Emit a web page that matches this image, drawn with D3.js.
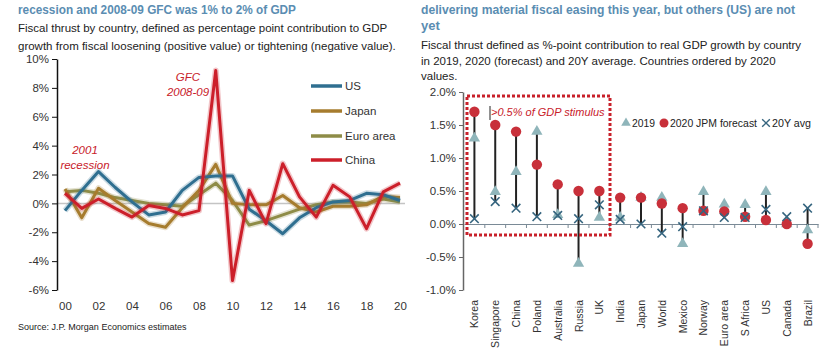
<!DOCTYPE html>
<html><head><meta charset="utf-8">
<script src="https://cdn.jsdelivr.net/npm/d3@7/dist/d3.min.js"></script>
<style>
body{margin:0;background:#fff;}
svg{font-family:"Liberation Sans",Arial,sans-serif;}
</style></head>
<body><svg id="c" width="836" height="350"></svg>
<script>
// ---------- Left chart data ----------
const years = d3.range(2000, 2021);
const usVals    = [-0.5, 0.9, 2.2, 1.1, 0.1, -0.8, -0.6, 0.9, 1.8, 1.9, 1.9, -0.4, -1.2, -2.1, -1.0, -0.3, 0.1, 0.2, 0.7, 0.6, 0.2];
const japanVals = [1.0, -1.0, 1.05, 0.2, -0.6, -1.4, -1.65, -0.3, 0.9, 2.7, 0.0, -0.1, -0.1, 0.55, -0.3, -0.6, -0.2, -0.2, -0.1, 0.5, 0.4];
const euroVals  = [0.8, 0.9, 0.7, 0.4, 0.2, 0.0, -0.1, -0.2, 0.6, 1.4, 0.2, -1.5, -1.2, -0.8, -0.4, -0.1, 0.1, 0.1, 0.0, 0.3, 0.1];
const chinaVals = [0.7, -0.35, 0.3, -0.35, -0.95, -0.15, -0.35, -0.8, -0.5, 9.2, -5.35, 0.9, -1.4, 2.75, 0.45, -0.95, 1.25, 0.45, -1.75, 0.8, 1.4];
const leftSeries = ["US", "Japan", "Euro area", "China"];
const leftColors = ["#2f6f90", "#a67c2e", "#8e8c47", "#cc1f2a"];
const leftYTicks = [-6, -4, -2, 0, 2, 4, 6, 8, 10];
const leftXTicks = [2000, 2002, 2004, 2006, 2008, 2010, 2012, 2014, 2016, 2018, 2020];

// ---------- Right chart data ----------
const countries = ["Korea","Singapore","China","Poland","Australia","Russia","UK","India","Japan","World","Mexico","Norway","Euro area","S Africa","US","Canada","Brazil"];
const v2019 = [1.3, 0.49, 0.79, 1.4, 0.14, -0.6, 0.1, 0.1, 0.4, 0.4, -0.3, 0.49, 0.3, 0.29, 0.49, 0.0, -0.09];
const v2020 = [1.7, 1.5, 1.4, 0.9, 0.6, 0.5, 0.5, 0.4, 0.4, 0.31, 0.24, 0.2, 0.19, 0.11, 0.06, 0.0, -0.3];
const v20y  = [0.08, 0.34, 0.24, 0.11, 0.13, 0.08, 0.29, 0.07, 0.0, -0.14, -0.04, 0.2, 0.1, 0.1, 0.22, 0.11, 0.24];
const rightYTicks = [-1, -0.5, 0, 0.5, 1, 1.5, 2];

const svg = d3.select("#c");
const titleColor = "#5a8db2";

// ---------- Titles ----------
svg.append("text").attr("x", 18).attr("y", 14).attr("fill", titleColor)
  .attr("font-size", 13).attr("font-weight", "bold")
  .attr("textLength", 278).attr("lengthAdjust", "spacingAndGlyphs")
  .text("recession and 2008-09 GFC was 1% to 2% of GDP");
[["Fiscal thrust by country, defined as percentage point contribution to GDP", 32],
 ["growth from fiscal loosening (positive value) or tightening (negative value).", 50]]
 .forEach(([t, y]) => svg.append("text").attr("x", 18).attr("y", y).attr("fill", "#222").attr("font-size", 11.5).text(t));

svg.append("text").attr("x", 421).attr("y", 14).attr("fill", titleColor)
  .attr("font-size", 13).attr("font-weight", "bold")
  .attr("textLength", 374).attr("lengthAdjust", "spacingAndGlyphs")
  .text("delivering material fiscal easing this year, but others (US) are not");
svg.append("text").attr("x", 421).attr("y", 30).attr("fill", titleColor)
  .attr("font-size", 13).attr("font-weight", "bold").text("yet");
[["Fiscal thrust defined as %-point contribution to real GDP growth by country", 49],
 ["in 2019, 2020 (forecast) and 20Y average. Countries ordered by 2020", 65],
 ["values.", 80]]
 .forEach(([t, y]) => svg.append("text").attr("x", 421).attr("y", y).attr("fill", "#222").attr("font-size", 11.5).text(t));

// ---------- Left chart ----------
const xL = d3.scaleLinear().domain([2000, 2020]).range([65, 400]);
const yL = d3.scaleLinear().domain([-6, 10]).range([290, 59]);

svg.append("line").attr("x1", 57).attr("x2", 405).attr("y1", yL(0)).attr("y2", yL(0))
  .attr("stroke", "#c4c4c4").attr("stroke-width", 1.5);

const gyL = svg.append("g").attr("transform", "translate(57,0)")
  .call(d3.axisLeft(yL).tickValues(leftYTicks).tickFormat(d => d + "%").tickSize(5).tickSizeOuter(0));
gyL.select(".domain").attr("stroke", "#111").attr("stroke-width", 1.5);
gyL.selectAll(".tick line").attr("stroke", "#111");
gyL.selectAll("text").attr("font-size", 11.5).attr("fill", "#333").attr("font-family", "Liberation Sans, Arial");

const gxL = svg.append("g").attr("transform", "translate(0,290)")
  .call(d3.axisBottom(xL).tickValues(leftXTicks).tickFormat(d => String(d % 100).padStart(2, "0")).tickSize(0).tickPadding(12));
gxL.select(".domain").remove();
gxL.selectAll("text").attr("font-size", 11.5).attr("fill", "#333").attr("font-family", "Liberation Sans, Arial");

const leftData = [usVals, japanVals, euroVals, chinaVals];
const line = d3.line().x((d, i) => xL(years[i])).y(d => yL(d));
const drawOrder = [2, 1, 0, 3];
drawOrder.forEach(k => {
  svg.append("path").datum(leftData[k]).attr("d", line).attr("fill", "none")
    .attr("stroke", leftColors[k]).attr("stroke-opacity", 0.25).attr("stroke-width", 6).attr("stroke-linejoin", "round");
  svg.append("path").datum(leftData[k]).attr("d", line).attr("fill", "none")
    .attr("stroke", leftColors[k]).attr("stroke-width", 3).attr("stroke-linejoin", "round");
});

// legend
const legY = [86, 111, 136, 160];
leftSeries.forEach((s, i) => {
  svg.append("line").attr("x1", 311).attr("x2", 342).attr("y1", legY[i]).attr("y2", legY[i])
    .attr("stroke", leftColors[i]).attr("stroke-width", 3.5);
  svg.append("text").attr("x", 345).attr("y", legY[i] + 4).attr("font-size", 11.5).attr("fill", "#333").text(s);
});

// annotations
svg.append("text").attr("x", 188).attr("y", 81).attr("text-anchor", "middle").attr("font-size", 11.5)
  .attr("font-style", "italic").attr("fill", "#c8202a").text("GFC");
svg.append("text").attr("x", 188).attr("y", 96).attr("text-anchor", "middle").attr("font-size", 11.5)
  .attr("font-style", "italic").attr("fill", "#c8202a").text("2008-09");
svg.append("text").attr("x", 85).attr("y", 154).attr("text-anchor", "middle").attr("font-size", 11.5)
  .attr("font-style", "italic").attr("fill", "#c8202a").text("2001");
svg.append("text").attr("x", 85).attr("y", 169).attr("text-anchor", "middle").attr("font-size", 11.5)
  .attr("font-style", "italic").attr("fill", "#c8202a").text("recession");

svg.append("text").attr("x", 18).attr("y", 330).attr("font-size", 9).attr("fill", "#222")
  .text("Source: J.P. Morgan Economics estimates");

// ---------- Right chart ----------
const xR = d3.scaleBand().domain(countries).range([464, 818]);
const yR = d3.scaleLinear().domain([-1, 2]).range([290, 92]);
const cx = c => xR(c) + xR.bandwidth() / 2;

const gyR = svg.append("g").attr("transform", "translate(463,0)")
  .call(d3.axisLeft(yR).tickValues(rightYTicks).tickFormat(d => d.toFixed(1) + "%").tickSize(4).tickSizeOuter(0));
gyR.select(".domain").attr("stroke", "#666").attr("stroke-width", 1.5);
gyR.selectAll(".tick line").attr("stroke", "#666");
gyR.selectAll("text").attr("font-size", 11.5).attr("fill", "#333").attr("font-family", "Liberation Sans, Arial");

// zero axis with category ticks
const gxR = svg.append("g").attr("transform", `translate(0,${yR(0)})`)
  .call(d3.axisBottom(xR).tickSize(0).tickFormat(""));
gxR.select(".domain").attr("stroke", "#7a8a96").attr("stroke-width", 1.2);
svg.append("g").selectAll("line").data(countries.slice(1)).join("line")
  .attr("x1", d => xR(d)).attr("x2", d => xR(d)).attr("y1", yR(0)).attr("y2", yR(0) + 4)
  .attr("stroke", "#7a8a96");
svg.append("line").attr("x1", 818).attr("x2", 818).attr("y1", yR(0)).attr("y2", yR(0) + 4).attr("stroke", "#7a8a96");

// category labels rotated
svg.append("g").selectAll("text").data(countries).join("text")
  .attr("transform", d => `translate(${cx(d) + 4},300) rotate(-90)`)
  .attr("text-anchor", "end").attr("font-size", 10.5).attr("fill", "#333")
  .text(d => d);

// range lines
svg.append("g").selectAll("line").data(countries).join("line")
  .attr("x1", cx).attr("x2", cx)
  .attr("y1", (d, i) => yR(Math.max(v2019[i], v2020[i], v20y[i])))
  .attr("y2", (d, i) => yR(Math.min(v2019[i], v2020[i], v20y[i])))
  .attr("stroke", "#222").attr("stroke-width", 2);

const triColor = "#8fb5ba", dotColor = "#c8303a", xColor = "#36657f";
const tri = d3.symbol().type(d3.symbolTriangle).size(55);
const xSym = d3.symbol().type(d3.symbolX).size(50);

svg.append("g").selectAll("path").data(countries).join("path")
  .attr("d", tri).attr("transform", (d, i) => `translate(${cx(d)},${yR(v2019[i])})`).attr("fill", triColor);
svg.append("g").selectAll("circle").data(countries).join("circle")
  .attr("cx", cx).attr("cy", (d, i) => yR(v2020[i])).attr("r", 5.2).attr("fill", dotColor);
svg.append("g").selectAll("path").data(countries).join("path")
  .attr("d", xSym).attr("transform", (d, i) => `translate(${cx(d)},${yR(v20y[i])})`)
  .attr("fill", "none").attr("stroke", xColor).attr("stroke-width", 1.6);

// highlight box
svg.append("rect").attr("x", 467).attr("y", 96).attr("width", 143).attr("height", 139)
  .attr("fill", "none").attr("stroke", "#c8202a").attr("stroke-width", 3).attr("stroke-dasharray", "3,2");
svg.append("line").attr("x1", 490).attr("x2", 490).attr("y1", 106).attr("y2", 120).attr("stroke", "#222").attr("stroke-width", 1);
svg.append("text").attr("x", 491).attr("y", 116).attr("font-size", 11).attr("font-style", "italic")
  .attr("fill", "#c8202a").text(">0.5% of GDP stimulus");

// right legend
const ly = 123;
svg.append("path").attr("d", d3.symbol().type(d3.symbolTriangle).size(40)).attr("transform", `translate(626,${ly})`).attr("fill", triColor);
svg.append("text").attr("x", 632).attr("y", ly + 4).attr("font-size", 11).attr("fill", "#222")
  .attr("textLength", 23).attr("lengthAdjust", "spacingAndGlyphs").text("2019");
svg.append("circle").attr("cx", 664).attr("cy", ly).attr("r", 4.5).attr("fill", dotColor);
svg.append("text").attr("x", 670).attr("y", ly + 4).attr("font-size", 11).attr("fill", "#222")
  .attr("textLength", 87).attr("lengthAdjust", "spacingAndGlyphs").text("2020 JPM forecast");
svg.append("path").attr("d", d3.symbol().type(d3.symbolX).size(40)).attr("transform", `translate(766,${ly})`)
  .attr("fill", "none").attr("stroke", xColor).attr("stroke-width", 1.4);
svg.append("text").attr("x", 772).attr("y", ly + 4).attr("font-size", 11).attr("fill", "#222")
  .attr("textLength", 39).attr("lengthAdjust", "spacingAndGlyphs").text("20Y avg");
</script></body></html>
